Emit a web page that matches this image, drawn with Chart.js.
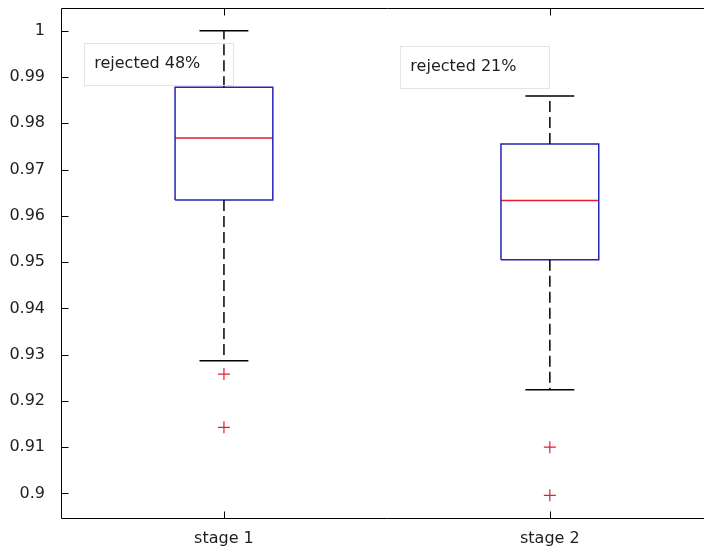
<!DOCTYPE html>
<html>
<head>
<meta charset="utf-8">
<script src="https://cdn.jsdelivr.net/npm/chart.js@4.4.1/dist/chart.umd.min.js"></script>
<style>
  html, body { margin: 0; padding: 0; background: #fff; overflow: hidden; }
  #wrap { width: 704px; height: 550px; overflow: hidden; position: relative; }
  #chart { position: absolute; left: 0; top: 0; }
</style>
</head>
<body>
<div id="wrap"><canvas id="chart" width="720" height="550"></canvas></div>
<script>
// values
const stages = ["stage 1", "stage 2"];
const stagePos = [1, 2];
const upperWhisker = [1.0, 0.9859];
const q3 = [0.9878, 0.9755];
const median = [0.9768, 0.9633];
const q1 = [0.9634, 0.9505];
const lowerWhisker = [0.9287, 0.9224];
const outliers = [[0.9258, 0.9143], [0.9100, 0.8996]];

const yTicks = [0.9, 0.91, 0.92, 0.93, 0.94, 0.95, 0.96, 0.97, 0.98, 0.99, 1];
const yTickLabels = ["0.9", "0.91", "0.92", "0.93", "0.94", "0.95", "0.96", "0.97", "0.98", "0.99", "1"];

const notes = ["rejected 48%", "rejected 21%"];
const noteX = [0.602, 1.572];
const noteY = [0.9928, 0.9922];

const BOX_HALF = 0.15;
const CAP_HALF = 0.075;
const BLUE = "rgb(35,35,180)";
const RED = "rgb(225,30,50)";
const INK = "#1e1e1e";
const FONT = { family: "'DejaVu Sans', sans-serif", size: 16 };

const datasets = [];
const seg = (data, color, dash) => ({
    type: "line",
    data: data,
    showLine: true,
    borderColor: color,
    borderWidth: 1.5,
    borderDash: dash || [],
    pointRadius: 0,
    fill: false,
    tension: 0
});

stagePos.forEach((x, i) => {
    // whiskers (dashed) and caps
    datasets.push(seg([{ x: x, y: q3[i] }, { x: x, y: upperWhisker[i] }], "#000", [11, 5]));
    datasets.push(seg([{ x: x, y: q1[i] }, { x: x, y: lowerWhisker[i] }], "#000", [11, 5]));
    datasets.push(seg([{ x: x - CAP_HALF, y: upperWhisker[i] }, { x: x + CAP_HALF, y: upperWhisker[i] }], "#000"));
    datasets.push(seg([{ x: x - CAP_HALF, y: lowerWhisker[i] }, { x: x + CAP_HALF, y: lowerWhisker[i] }], "#000"));
    // box
    datasets.push(seg([
        { x: x - BOX_HALF, y: q1[i] },
        { x: x + BOX_HALF, y: q1[i] },
        { x: x + BOX_HALF, y: q3[i] },
        { x: x - BOX_HALF, y: q3[i] },
        { x: x - BOX_HALF, y: q1[i] }
    ], BLUE));
    // median
    datasets.push(seg([{ x: x - BOX_HALF, y: median[i] }, { x: x + BOX_HALF, y: median[i] }], RED));
    // outliers
    datasets.push({
        type: "scatter",
        data: outliers[i].map(v => ({ x: x, y: v })),
        pointStyle: "cross",
        pointRadius: 6,
        borderColor: RED,
        borderWidth: 1.2,
        backgroundColor: RED
    });
});

const framePlugin = {
    id: "frame",
    afterDraw(chart) {
        const { ctx, chartArea: a, scales } = chart;
        ctx.save();
        ctx.strokeStyle = "#000";
        ctx.lineWidth = 1;
        const L = Math.round(a.left) + 0.5, R = Math.round(a.right) + 0.5;
        const T = Math.round(a.top) + 0.5, B = Math.round(a.bottom) + 0.5;
        ctx.beginPath();
        ctx.moveTo(R, T); ctx.lineTo(L, T); ctx.lineTo(L, B); ctx.lineTo(R, B);
        yTicks.forEach(v => {
            const y = Math.round(scales.y.getPixelForValue(v)) + 0.5;
            ctx.moveTo(L, y); ctx.lineTo(L + 7, y);
        });
        stagePos.forEach(v => {
            const x = Math.round(scales.x.getPixelForValue(v)) + 0.5;
            ctx.moveTo(x, B); ctx.lineTo(x, B - 7);
            ctx.moveTo(x, T); ctx.lineTo(x, T + 7);
        });
        ctx.stroke();
        ctx.restore();
    }
};

const notePlugin = {
    id: "notes",
    afterDatasetsDraw(chart) {
        const { ctx, scales } = chart;
        ctx.save();
        ctx.font = FONT.size + "px " + FONT.family;
        ctx.textBaseline = "middle";
        notes.forEach((t, i) => {
            const x = scales.x.getPixelForValue(noteX[i]);
            const y = scales.y.getPixelForValue(noteY[i]);
            const w = ctx.measureText(t).width;
            ctx.strokeStyle = "#e4e4e4";
            ctx.lineWidth = 1;
            ctx.strokeRect(Math.round(x - 10) + 0.5, Math.round(y - 21) + 0.5, Math.round(w + 43), 42);
            ctx.fillStyle = INK;
            ctx.fillText(t, x, y);
        });
        ctx.restore();
    }
};

new Chart(document.getElementById("chart"), {
    type: "scatter",
    data: { datasets: datasets },
    plugins: [framePlugin, notePlugin],
    options: {
        responsive: false,
        animation: false,
        devicePixelRatio: 1,
        layout: { padding: { top: 8, right: 5, left: 0, bottom: 0 } },
        plugins: {
            legend: { display: false },
            tooltip: { enabled: false }
        },
        scales: {
            x: {
                type: "linear",
                min: 0.5,
                max: 2.5,
                grid: { display: false },
                border: { display: false },
                afterBuildTicks: s => { s.ticks = stagePos.map(v => ({ value: v })); },
                ticks: {
                    callback: (v, i) => stages[i],
                    font: FONT,
                    color: INK,
                    padding: 3,
                    maxRotation: 0,
                    autoSkip: false
                },
                afterFit: s => { s.height = 32; s.paddingLeft = 0; s.paddingRight = 0; }
            },
            y: {
                type: "linear",
                min: 0.8947,
                max: 1.0049,
                grid: { display: false },
                border: { display: false },
                afterBuildTicks: s => { s.ticks = yTicks.map(v => ({ value: v })); },
                ticks: {
                    callback: (v, i) => yTickLabels[i],
                    font: FONT,
                    color: INK,
                    padding: 8,
                    autoSkip: false
                },
                afterFit: s => { s.width = 61; s.paddingTop = 0; s.paddingBottom = 0; }
            }
        }
    }
});
</script>
</body>
</html>
